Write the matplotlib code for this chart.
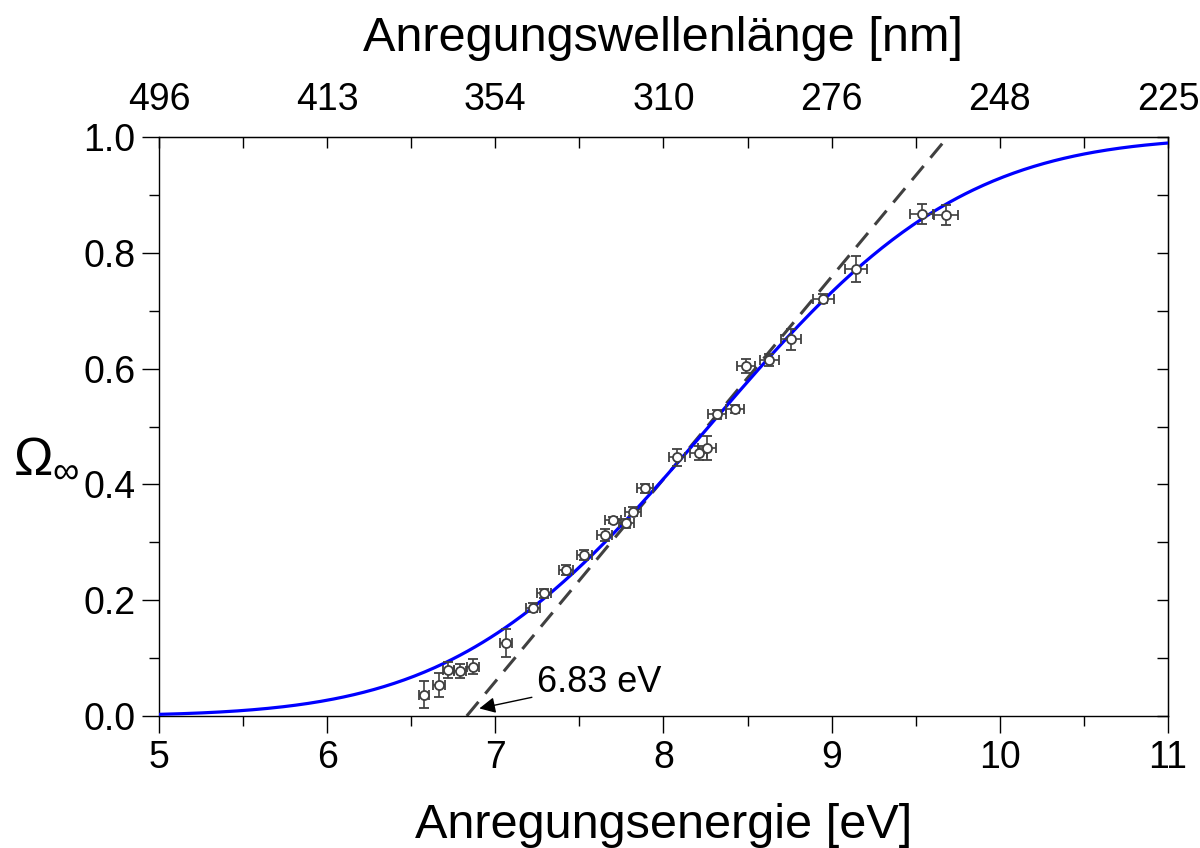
import numpy as np
import matplotlib
matplotlib.use('Agg')
import matplotlib.pyplot as plt
from math import erf

plt.rcParams['font.family'] = ['Liberation Sans', 'DejaVu Sans']
plt.rcParams['mathtext.fontset'] = 'custom'
plt.rcParams['mathtext.rm'] = 'Liberation Sans'
plt.rcParams['mathtext.it'] = 'Liberation Sans'

## data -----
energy = [6.575, 6.665, 6.72, 6.79, 6.865, 7.063, 7.225, 7.29, 7.42, 7.53,
          7.65, 7.70, 7.78, 7.82, 7.89, 8.08, 8.21, 8.26, 8.32, 8.425,
          8.49, 8.63, 8.757, 8.95, 9.147, 9.535, 9.68]
omega = [0.037, 0.053, 0.079, 0.077, 0.085, 0.126, 0.187, 0.212, 0.252, 0.278,
         0.313, 0.339, 0.333, 0.353, 0.393, 0.447, 0.454, 0.463, 0.521, 0.530,
         0.604, 0.615, 0.651, 0.721, 0.772, 0.867, 0.865]
omega_err = [0.024, 0.021, 0.014, 0.012, 0.013, 0.024, 0.008, 0.008, 0.008, 0.008,
             0.010, 0.005, 0.008, 0.008, 0.008, 0.015, 0.012, 0.020, 0.008, 0.007,
             0.012, 0.010, 0.018, 0.008, 0.022, 0.017, 0.017]
energy_err = [0.031, 0.033, 0.034, 0.035, 0.036, 0.038, 0.040, 0.041, 0.042, 0.043,
              0.044, 0.045, 0.046, 0.046, 0.047, 0.049, 0.051, 0.052, 0.053, 0.054,
              0.055, 0.057, 0.059, 0.062, 0.065, 0.070, 0.072]

# fit: Gaussian error function
fit_center = 8.27
fit_width = 1.18

# tangent line through threshold
tangent_x = [6.83, 9.69]
tangent_y = [0.0, 1.0]

top_tick_pos = [5, 6, 7, 8, 9, 10, 11]
top_tick_labels = ['496', '413', '354', '310', '276', '248', '225']

## plot -----
fig = plt.figure(figsize=(12, 8.48), dpi=100)
ax = fig.add_axes([0.1325, 0.1557, 0.8408, 0.6827])

xf = np.linspace(5, 11, 400)
yf = [0.5 * (1 + erf((v - fit_center) / (fit_width * np.sqrt(2)))) for v in xf]
ax.plot(xf, yf, color='#0000ff', lw=2.3, zorder=3)

ax.plot(tangent_x, tangent_y, color='#404040', lw=2.2, dashes=(6, 3.5), zorder=2)

ax.errorbar(energy, omega, yerr=omega_err, xerr=energy_err, fmt='o',
            ms=6.5, mfc='white', mec='#404040', mew=1.3, ecolor='#404040',
            elinewidth=1.2, capsize=3.5, capthick=1.2, zorder=4)

ax.annotate('6.83 eV', xy=(6.905, 0.013), xytext=(7.25, 0.057),
            fontsize=26, va='center', ha='left',
            arrowprops=dict(arrowstyle='-|>', color='black', lw=1.0,
                            mutation_scale=24, shrinkA=2, shrinkB=0))

ax.set_xlim(5, 11)
ax.set_ylim(0, 1.0)
ax.set_xticks(np.arange(5, 11.1, 1))
ax.set_xticks(np.arange(5.5, 11, 1), minor=True)
ax.set_yticks(np.arange(0, 1.01, 0.2))
ax.set_yticks(np.arange(0.1, 1.0, 0.2), minor=True)
ax.set_yticklabels(['0.0', '0.2', '0.4', '0.6', '0.8', '1.0'])
ax.tick_params(axis='both', which='major', direction='out', length=12, width=1.0,
               labelsize=27, pad=5)
ax.tick_params(axis='both', which='minor', direction='out', length=7, width=1.0)

for s in ax.spines.values():
    s.set_linewidth(1.0)

# top axis (wavelength)
top = ax.secondary_xaxis('top')
top.set_xticks(top_tick_pos)
top.set_xticklabels(top_tick_labels)
top.set_xticks(np.arange(5.5, 11, 1), minor=True)
top.tick_params(which='both', direction='in', length=8, width=1.0, labelsize=27, pad=14)
top.set_xlabel('Anregungswellenlänge [nm]', fontsize=35, labelpad=22)

# right axis ticks only
right = ax.secondary_yaxis('right')
right.set_yticks(np.arange(0, 1.01, 0.1))
right.set_yticklabels([])
right.tick_params(direction='in', length=8, width=1.0)

ax.set_xlabel('Anregungsenergie [eV]', fontsize=35, labelpad=20)
ax.set_ylabel(r'$\mathregular{\Omega_\infty}$', fontsize=38, rotation=0,
              ha='center', va='center')
ax.yaxis.set_label_coords(-0.112, 0.445)

fig.savefig('out.png', dpi=100)
